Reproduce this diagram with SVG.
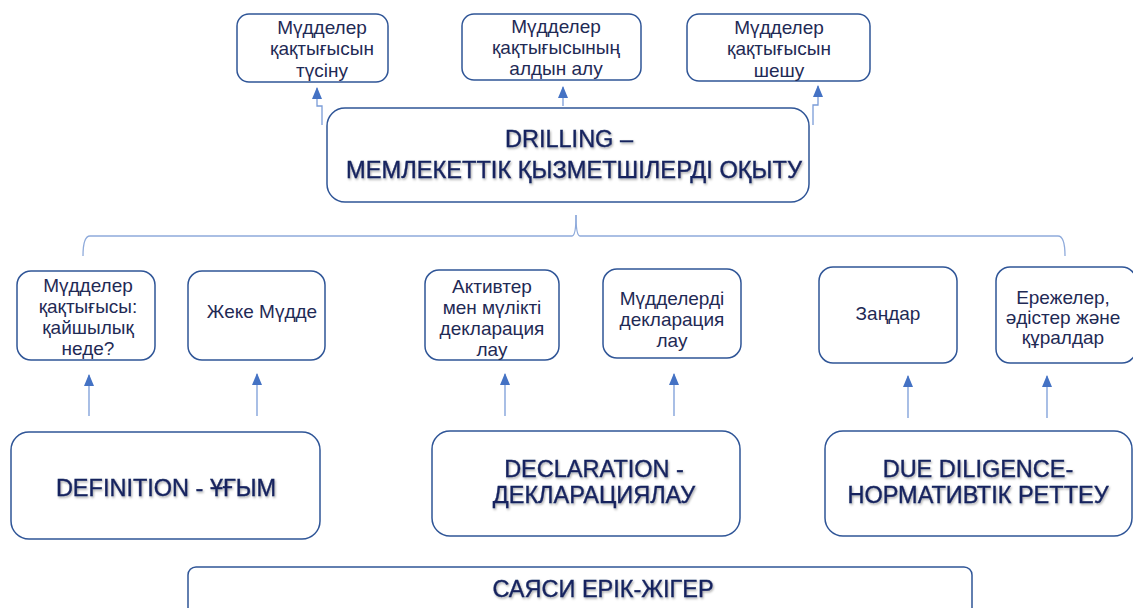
<svg xmlns="http://www.w3.org/2000/svg" width="1133" height="608" viewBox="0 0 1133 608">
<defs>
<marker id="ah" markerWidth="12" markerHeight="10" refX="11" refY="5" orient="auto" markerUnits="userSpaceOnUse" viewBox="0 0 12 10">
<path d="M0,0 L12,5 L0,10 Z" fill="#4472C4"/>
</marker>
<filter id="sh" x="-5%" y="-20%" width="110%" height="150%">
<feDropShadow dx="1" dy="1.5" stdDeviation="0.8" flood-color="#000" flood-opacity="0.35"/>
</filter>
</defs>
<style>
.box{fill:#fff;stroke:#2F5597;stroke-width:1.5}
.t{font-family:"Liberation Sans",Arial,sans-serif;font-size:19px;fill:#1F2A55;text-anchor:middle}
.big{font-family:"Liberation Sans",Arial,sans-serif;font-size:23.5px;fill:#15235E;text-anchor:middle;stroke:#15235E;stroke-width:0.35;filter:url(#sh)}
.c{fill:none;stroke:#8EAADB;stroke-width:1.3}
.a{fill:none;stroke:#7A9CD8;stroke-width:1.3;marker-end:url(#ah)}
</style>
<rect width="1133" height="608" fill="#fff"/>

<g id="connectors">
<path class="a" d="M322,125 V106 H317 V88"/>
<path class="a" d="M563,106 V87"/>
<path class="a" d="M813,125 V105 H818 V86"/>
<path class="c" d="M576,215 Q576,236 572,236 H90 Q83,236 83,256"/>
<path class="c" d="M576,215 Q576,236 580,236 H1058 Q1065,236 1065,256"/>
<path class="a" d="M89,416 V375"/>
<path class="a" d="M257,416 V374"/>
<path class="a" d="M505,416 V374"/>
<path class="a" d="M674,416 V374"/>
<path class="a" d="M908,418 V376"/>
<path class="a" d="M1047,418 V376"/>
</g>

<g id="top1"><rect class="box" x="237" y="14" width="151" height="68" rx="12"/>
<text class="t" x="322" y="34">Мүдделер</text><text class="t" x="322" y="55">қақтығысын</text><text class="t" x="322" y="77">түсіну</text></g>
<g id="top2"><rect class="box" x="462" y="14" width="179" height="66" rx="12"/>
<text class="t" x="556" y="33">Мүдделер</text><text class="t" x="556" y="54">қақтығысының</text><text class="t" x="556" y="75">алдын алу</text></g>
<g id="top3"><rect class="box" x="687" y="14" width="183" height="67" rx="12"/>
<text class="t" x="779" y="34">Мүдделер</text><text class="t" x="779" y="55">қақтығысын</text><text class="t" x="779" y="77">шешу</text></g>

<g id="main"><rect class="box" x="327" y="108" width="482" height="94" rx="18"/>
<text class="big" x="569" y="147">DRILLING –</text>
<text class="big" x="574" y="178" textLength="456" lengthAdjust="spacingAndGlyphs">МЕМЛЕКЕТТІК ҚЫЗМЕТШІЛЕРДІ ОҚЫТУ</text></g>

<g id="m1"><rect class="box" x="17" y="271" width="138" height="89" rx="14"/>
<text class="t" x="88" y="292">Мүдделер</text><text class="t" x="88" y="313">қақтығысы:</text><text class="t" x="88" y="334">қайшылық</text><text class="t" x="88" y="355">неде?</text></g>
<g id="m2"><rect class="box" x="188" y="271" width="137" height="89" rx="14"/>
<text class="t" x="262" y="318">Жеке Мүдде</text></g>
<g id="m3"><rect class="box" x="425" y="270" width="134" height="90" rx="14"/>
<text class="t" x="492" y="293">Активтер</text><text class="t" x="492" y="314">мен мүлікті</text><text class="t" x="492" y="335">декларация</text><text class="t" x="492" y="356">лау</text></g>
<g id="m4"><rect class="box" x="603" y="269" width="138" height="89" rx="14"/>
<text class="t" x="672" y="305">Мүдделерді</text><text class="t" x="672" y="326">декларация</text><text class="t" x="672" y="347">лау</text></g>
<g id="m5"><rect class="box" x="819" y="267" width="138" height="96" rx="14"/>
<text class="t" x="888" y="320">Заңдар</text></g>
<g id="m6"><rect class="box" x="996" y="267" width="140" height="96" rx="14"/>
<text class="t" x="1063" y="304">Ережелер,</text><text class="t" x="1063" y="324">әдістер және</text><text class="t" x="1063" y="344">құралдар</text></g>

<g id="b1"><rect class="box" x="11" y="432" width="309" height="107" rx="18"/>
<text class="big" x="166" y="496">DEFINITION - ҰҒЫМ</text></g>
<g id="b2"><rect class="box" x="432" y="431" width="308" height="105" rx="18"/>
<text class="big" x="594" y="477">DECLARATION -</text><text class="big" x="594" y="503">ДЕКЛАРАЦИЯЛАУ</text></g>
<g id="b3"><rect class="box" x="825" y="431" width="307" height="105" rx="18"/>
<text class="big" x="978" y="477">DUE DILIGENCE-</text><text class="big" x="978" y="503">НОРМАТИВТІК РЕТТЕУ</text></g>
<g id="b4"><rect class="box" x="188" y="567" width="784" height="60" rx="8"/>
<text class="big" x="603" y="597">САЯСИ ЕРІК-ЖІГЕР</text></g>
</svg>
